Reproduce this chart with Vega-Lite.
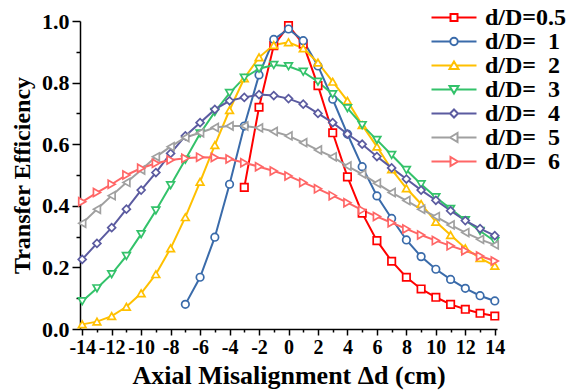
{
"$schema": "https://vega.github.io/schema/vega-lite/v6.json",
"width": 417, "height": 308,
"autosize": {"type": "none"},
"padding": {"left": 80, "top": 21, "right": 81, "bottom": 63},
"background": "white",
"config": {"view": {"stroke": null}, "font": "Liberation Serif"},
"data": {"values": [
{"s":"d/D=0.5","x":-3,"y":0.46},{"s":"d/D=0.5","x":-2,"y":0.72},{"s":"d/D=0.5","x":-1,"y":0.92},{"s":"d/D=0.5","x":0,"y":0.985},{"s":"d/D=0.5","x":1,"y":0.925},{"s":"d/D=0.5","x":2,"y":0.79},{"s":"d/D=0.5","x":3,"y":0.637},{"s":"d/D=0.5","x":4,"y":0.494},{"s":"d/D=0.5","x":5,"y":0.376},{"s":"d/D=0.5","x":6,"y":0.287},{"s":"d/D=0.5","x":7,"y":0.22},{"s":"d/D=0.5","x":8,"y":0.168},{"s":"d/D=0.5","x":9,"y":0.13},{"s":"d/D=0.5","x":10,"y":0.103},{"s":"d/D=0.5","x":11,"y":0.08},{"s":"d/D=0.5","x":12,"y":0.064},{"s":"d/D=0.5","x":13,"y":0.051},{"s":"d/D=0.5","x":14,"y":0.042},
{"s":"d/D=\u00a0\u00a01","x":-7,"y":0.08},{"s":"d/D=\u00a0\u00a01","x":-6,"y":0.168},{"s":"d/D=\u00a0\u00a01","x":-5,"y":0.298},{"s":"d/D=\u00a0\u00a01","x":-4,"y":0.47},{"s":"d/D=\u00a0\u00a01","x":-3,"y":0.659},{"s":"d/D=\u00a0\u00a01","x":-2,"y":0.825},{"s":"d/D=\u00a0\u00a01","x":-1,"y":0.94},{"s":"d/D=\u00a0\u00a01","x":0,"y":0.974},{"s":"d/D=\u00a0\u00a01","x":1,"y":0.936},{"s":"d/D=\u00a0\u00a01","x":2,"y":0.854},{"s":"d/D=\u00a0\u00a01","x":3,"y":0.746},{"s":"d/D=\u00a0\u00a01","x":4,"y":0.633},{"s":"d/D=\u00a0\u00a01","x":5,"y":0.527},{"s":"d/D=\u00a0\u00a01","x":6,"y":0.432},{"s":"d/D=\u00a0\u00a01","x":7,"y":0.359},{"s":"d/D=\u00a0\u00a01","x":8,"y":0.289},{"s":"d/D=\u00a0\u00a01","x":9,"y":0.235},{"s":"d/D=\u00a0\u00a01","x":10,"y":0.194},{"s":"d/D=\u00a0\u00a01","x":11,"y":0.161},{"s":"d/D=\u00a0\u00a01","x":12,"y":0.132},{"s":"d/D=\u00a0\u00a01","x":13,"y":0.108},{"s":"d/D=\u00a0\u00a01","x":14,"y":0.091},
{"s":"d/D=\u00a0\u00a02","x":-14,"y":0.015},{"s":"d/D=\u00a0\u00a02","x":-13,"y":0.024},{"s":"d/D=\u00a0\u00a02","x":-12,"y":0.042},{"s":"d/D=\u00a0\u00a02","x":-11,"y":0.072},{"s":"d/D=\u00a0\u00a02","x":-10,"y":0.116},{"s":"d/D=\u00a0\u00a02","x":-9,"y":0.178},{"s":"d/D=\u00a0\u00a02","x":-8,"y":0.262},{"s":"d/D=\u00a0\u00a02","x":-7,"y":0.363},{"s":"d/D=\u00a0\u00a02","x":-6,"y":0.478},{"s":"d/D=\u00a0\u00a02","x":-5,"y":0.597},{"s":"d/D=\u00a0\u00a02","x":-4,"y":0.711},{"s":"d/D=\u00a0\u00a02","x":-3,"y":0.814},{"s":"d/D=\u00a0\u00a02","x":-2,"y":0.882},{"s":"d/D=\u00a0\u00a02","x":-1,"y":0.922},{"s":"d/D=\u00a0\u00a02","x":0,"y":0.931},{"s":"d/D=\u00a0\u00a02","x":1,"y":0.911},{"s":"d/D=\u00a0\u00a02","x":2,"y":0.865},{"s":"d/D=\u00a0\u00a02","x":3,"y":0.803},{"s":"d/D=\u00a0\u00a02","x":4,"y":0.741},{"s":"d/D=\u00a0\u00a02","x":5,"y":0.662},{"s":"d/D=\u00a0\u00a02","x":6,"y":0.592},{"s":"d/D=\u00a0\u00a02","x":7,"y":0.518},{"s":"d/D=\u00a0\u00a02","x":8,"y":0.457},{"s":"d/D=\u00a0\u00a02","x":9,"y":0.406},{"s":"d/D=\u00a0\u00a02","x":10,"y":0.348},{"s":"d/D=\u00a0\u00a02","x":11,"y":0.305},{"s":"d/D=\u00a0\u00a02","x":12,"y":0.262},{"s":"d/D=\u00a0\u00a02","x":13,"y":0.23},{"s":"d/D=\u00a0\u00a02","x":14,"y":0.205},
{"s":"d/D=\u00a0\u00a03","x":-14,"y":0.09},{"s":"d/D=\u00a0\u00a03","x":-13,"y":0.132},{"s":"d/D=\u00a0\u00a03","x":-12,"y":0.178},{"s":"d/D=\u00a0\u00a03","x":-11,"y":0.237},{"s":"d/D=\u00a0\u00a03","x":-10,"y":0.308},{"s":"d/D=\u00a0\u00a03","x":-9,"y":0.385},{"s":"d/D=\u00a0\u00a03","x":-8,"y":0.467},{"s":"d/D=\u00a0\u00a03","x":-7,"y":0.55},{"s":"d/D=\u00a0\u00a03","x":-6,"y":0.635},{"s":"d/D=\u00a0\u00a03","x":-5,"y":0.705},{"s":"d/D=\u00a0\u00a03","x":-4,"y":0.766},{"s":"d/D=\u00a0\u00a03","x":-3,"y":0.816},{"s":"d/D=\u00a0\u00a03","x":-2,"y":0.845},{"s":"d/D=\u00a0\u00a03","x":-1,"y":0.857},{"s":"d/D=\u00a0\u00a03","x":0,"y":0.853},{"s":"d/D=\u00a0\u00a03","x":1,"y":0.835},{"s":"d/D=\u00a0\u00a03","x":2,"y":0.803},{"s":"d/D=\u00a0\u00a03","x":3,"y":0.762},{"s":"d/D=\u00a0\u00a03","x":4,"y":0.717},{"s":"d/D=\u00a0\u00a03","x":5,"y":0.662},{"s":"d/D=\u00a0\u00a03","x":6,"y":0.614},{"s":"d/D=\u00a0\u00a03","x":7,"y":0.565},{"s":"d/D=\u00a0\u00a03","x":8,"y":0.516},{"s":"d/D=\u00a0\u00a03","x":9,"y":0.47},{"s":"d/D=\u00a0\u00a03","x":10,"y":0.428},{"s":"d/D=\u00a0\u00a03","x":11,"y":0.39},{"s":"d/D=\u00a0\u00a03","x":12,"y":0.353},{"s":"d/D=\u00a0\u00a03","x":13,"y":0.318},{"s":"d/D=\u00a0\u00a03","x":14,"y":0.285},
{"s":"d/D=\u00a0\u00a04","x":-14,"y":0.226},{"s":"d/D=\u00a0\u00a04","x":-13,"y":0.278},{"s":"d/D=\u00a0\u00a04","x":-12,"y":0.329},{"s":"d/D=\u00a0\u00a04","x":-11,"y":0.389},{"s":"d/D=\u00a0\u00a04","x":-10,"y":0.451},{"s":"d/D=\u00a0\u00a04","x":-9,"y":0.508},{"s":"d/D=\u00a0\u00a04","x":-8,"y":0.57},{"s":"d/D=\u00a0\u00a04","x":-7,"y":0.627},{"s":"d/D=\u00a0\u00a04","x":-6,"y":0.67},{"s":"d/D=\u00a0\u00a04","x":-5,"y":0.713},{"s":"d/D=\u00a0\u00a04","x":-4,"y":0.741},{"s":"d/D=\u00a0\u00a04","x":-3,"y":0.752},{"s":"d/D=\u00a0\u00a04","x":-2,"y":0.761},{"s":"d/D=\u00a0\u00a04","x":-1,"y":0.758},{"s":"d/D=\u00a0\u00a04","x":0,"y":0.748},{"s":"d/D=\u00a0\u00a04","x":1,"y":0.73},{"s":"d/D=\u00a0\u00a04","x":2,"y":0.7},{"s":"d/D=\u00a0\u00a04","x":3,"y":0.67},{"s":"d/D=\u00a0\u00a04","x":4,"y":0.633},{"s":"d/D=\u00a0\u00a04","x":5,"y":0.6},{"s":"d/D=\u00a0\u00a04","x":6,"y":0.56},{"s":"d/D=\u00a0\u00a04","x":7,"y":0.523},{"s":"d/D=\u00a0\u00a04","x":8,"y":0.487},{"s":"d/D=\u00a0\u00a04","x":9,"y":0.451},{"s":"d/D=\u00a0\u00a04","x":10,"y":0.418},{"s":"d/D=\u00a0\u00a04","x":11,"y":0.384},{"s":"d/D=\u00a0\u00a04","x":12,"y":0.352},{"s":"d/D=\u00a0\u00a04","x":13,"y":0.326},{"s":"d/D=\u00a0\u00a04","x":14,"y":0.303},
{"s":"d/D=\u00a0\u00a05","x":-14,"y":0.343},{"s":"d/D=\u00a0\u00a05","x":-13,"y":0.389},{"s":"d/D=\u00a0\u00a05","x":-12,"y":0.433},{"s":"d/D=\u00a0\u00a05","x":-11,"y":0.476},{"s":"d/D=\u00a0\u00a05","x":-10,"y":0.516},{"s":"d/D=\u00a0\u00a05","x":-9,"y":0.559},{"s":"d/D=\u00a0\u00a05","x":-8,"y":0.592},{"s":"d/D=\u00a0\u00a05","x":-7,"y":0.622},{"s":"d/D=\u00a0\u00a05","x":-6,"y":0.637},{"s":"d/D=\u00a0\u00a05","x":-5,"y":0.654},{"s":"d/D=\u00a0\u00a05","x":-4,"y":0.659},{"s":"d/D=\u00a0\u00a05","x":-3,"y":0.659},{"s":"d/D=\u00a0\u00a05","x":-2,"y":0.653},{"s":"d/D=\u00a0\u00a05","x":-1,"y":0.641},{"s":"d/D=\u00a0\u00a05","x":0,"y":0.627},{"s":"d/D=\u00a0\u00a05","x":1,"y":0.605},{"s":"d/D=\u00a0\u00a05","x":2,"y":0.581},{"s":"d/D=\u00a0\u00a05","x":3,"y":0.559},{"s":"d/D=\u00a0\u00a05","x":4,"y":0.529},{"s":"d/D=\u00a0\u00a05","x":5,"y":0.503},{"s":"d/D=\u00a0\u00a05","x":6,"y":0.473},{"s":"d/D=\u00a0\u00a05","x":7,"y":0.443},{"s":"d/D=\u00a0\u00a05","x":8,"y":0.417},{"s":"d/D=\u00a0\u00a05","x":9,"y":0.389},{"s":"d/D=\u00a0\u00a05","x":10,"y":0.365},{"s":"d/D=\u00a0\u00a05","x":11,"y":0.338},{"s":"d/D=\u00a0\u00a05","x":12,"y":0.313},{"s":"d/D=\u00a0\u00a05","x":13,"y":0.291},{"s":"d/D=\u00a0\u00a05","x":14,"y":0.273},
{"s":"d/D=\u00a0\u00a06","x":-14,"y":0.413},{"s":"d/D=\u00a0\u00a06","x":-13,"y":0.443},{"s":"d/D=\u00a0\u00a06","x":-12,"y":0.47},{"s":"d/D=\u00a0\u00a06","x":-11,"y":0.5},{"s":"d/D=\u00a0\u00a06","x":-10,"y":0.522},{"s":"d/D=\u00a0\u00a06","x":-9,"y":0.538},{"s":"d/D=\u00a0\u00a06","x":-8,"y":0.549},{"s":"d/D=\u00a0\u00a06","x":-7,"y":0.554},{"s":"d/D=\u00a0\u00a06","x":-6,"y":0.558},{"s":"d/D=\u00a0\u00a06","x":-5,"y":0.557},{"s":"d/D=\u00a0\u00a06","x":-4,"y":0.552},{"s":"d/D=\u00a0\u00a06","x":-3,"y":0.54},{"s":"d/D=\u00a0\u00a06","x":-2,"y":0.527},{"s":"d/D=\u00a0\u00a06","x":-1,"y":0.513},{"s":"d/D=\u00a0\u00a06","x":0,"y":0.497},{"s":"d/D=\u00a0\u00a06","x":1,"y":0.476},{"s":"d/D=\u00a0\u00a06","x":2,"y":0.455},{"s":"d/D=\u00a0\u00a06","x":3,"y":0.433},{"s":"d/D=\u00a0\u00a06","x":4,"y":0.41},{"s":"d/D=\u00a0\u00a06","x":5,"y":0.386},{"s":"d/D=\u00a0\u00a06","x":6,"y":0.365},{"s":"d/D=\u00a0\u00a06","x":7,"y":0.345},{"s":"d/D=\u00a0\u00a06","x":8,"y":0.325},{"s":"d/D=\u00a0\u00a06","x":9,"y":0.305},{"s":"d/D=\u00a0\u00a06","x":10,"y":0.287},{"s":"d/D=\u00a0\u00a06","x":11,"y":0.27},{"s":"d/D=\u00a0\u00a06","x":12,"y":0.254},{"s":"d/D=\u00a0\u00a06","x":13,"y":0.237},{"s":"d/D=\u00a0\u00a06","x":14,"y":0.221}
]},
"layer": [
{
"mark": {"type": "line", "strokeWidth": 2},
"encoding": {
"x": {"field": "x", "type": "quantitative", "scale": {"domain": [-14.15, 14.15], "nice": false, "zero": false},
"axis": {"orient": "bottom", "values": [-14,-12,-10,-8,-6,-4,-2,0,2,4,6,8,10,12,14], "labelExpr": "'' + datum.value", "title": "Axial Misalignment \u0394d (cm)", "grid": false, "tickSize": 6, "tickWidth": 1.5, "tickColor": "black", "domainColor": "black", "domainWidth": 1.5, "labelFont": "Liberation Serif", "labelFontSize": 20, "labelFontWeight": "bold", "labelColor": "black", "labelPadding": 2, "labelFlush": false, "labelOverlap": false, "titleFont": "Liberation Serif", "titleFontSize": 26, "titleFontWeight": "bold", "titleColor": "black", "titlePadding": 5}},
"y": {"field": "y", "type": "quantitative", "scale": {"domain": [0, 1], "nice": false},
"axis": {"orient": "left", "values": [0, 0.2, 0.4, 0.6, 0.8, 1.0], "format": ".1f", "title": "Transfer Efficiency", "grid": false, "tickSize": 8, "tickWidth": 1.5, "tickColor": "black", "domainColor": "black", "domainWidth": 1.5, "labelFont": "Liberation Serif", "labelFontSize": 22, "labelFontWeight": "bold", "labelColor": "black", "labelPadding": 3, "labelFlush": false, "labelOverlap": false, "titleFont": "Liberation Serif", "titleFontSize": 24, "titleFontWeight": "bold", "titleColor": "black", "titlePadding": 7}},
"color": {"field": "s", "type": "nominal", "legend": null,
"scale": {"domain": ["d/D=0.5","d/D=\u00a0\u00a01","d/D=\u00a0\u00a02","d/D=\u00a0\u00a03","d/D=\u00a0\u00a04","d/D=\u00a0\u00a05","d/D=\u00a0\u00a06"], "range": ["#FF0000","#3A6BAA","#FFC000","#33C26A","#5B5BA0","#A0A0A0","#FF6666"]}}
}
},
{
"mark": {"type": "point", "filled": false, "fill": "white", "strokeWidth": 1.7, "opacity": 1},
"encoding": {
"x": {"field": "x", "type": "quantitative", "scale": {"domain": [-14.15, 14.15], "nice": false, "zero": false},
"axis": {"orient": "bottom", "values": [-13,-11,-9,-7,-5,-3,-1,1,3,5,7,9,11,13], "labels": false, "domain": false, "title": null, "grid": false, "tickSize": 3, "tickWidth": 1.5, "tickColor": "black"}},
"y": {"field": "y", "type": "quantitative", "scale": {"domain": [0, 1], "nice": false},
"axis": {"orient": "left", "values": [0.1, 0.3, 0.5, 0.7, 0.9], "labels": false, "domain": false, "title": null, "grid": false, "tickSize": 4, "tickWidth": 1.5, "tickColor": "black"}},
"color": {"field": "s", "type": "nominal", "legend": null,
"scale": {"domain": ["d/D=0.5","d/D=\u00a0\u00a01","d/D=\u00a0\u00a02","d/D=\u00a0\u00a03","d/D=\u00a0\u00a04","d/D=\u00a0\u00a05","d/D=\u00a0\u00a06"], "range": ["#FF0000","#3A6BAA","#FFC000","#33C26A","#5B5BA0","#A0A0A0","#FF6666"]}},
"shape": {"field": "s", "type": "nominal", "legend": null,
"scale": {"domain": ["d/D=0.5","d/D=\u00a0\u00a01","d/D=\u00a0\u00a02","d/D=\u00a0\u00a03","d/D=\u00a0\u00a04","d/D=\u00a0\u00a05","d/D=\u00a0\u00a06"], "range": ["square","circle","triangle-up","triangle-down","diamond","triangle-left","triangle-right"]}},
"size": {"field": "s", "type": "nominal", "legend": null,
"scale": {"domain": ["d/D=0.5","d/D=\u00a0\u00a01","d/D=\u00a0\u00a02","d/D=\u00a0\u00a03","d/D=\u00a0\u00a04","d/D=\u00a0\u00a05","d/D=\u00a0\u00a06"], "range": [55, 65, 110, 110, 95, 110, 110]}}
}
},
{
"mark": {"type": "point", "filled": false, "opacity": 0},
"encoding": {
"x": {"field": "x", "type": "quantitative", "scale": {"domain": [-14.15, 14.15], "nice": false, "zero": false}, "axis": null},
"y": {"field": "y", "type": "quantitative", "scale": {"domain": [0, 1], "nice": false}, "axis": null},
"color": {"field": "s", "type": "nominal",
"scale": {"domain": ["d/D=0.5","d/D=\u00a0\u00a01","d/D=\u00a0\u00a02","d/D=\u00a0\u00a03","d/D=\u00a0\u00a04","d/D=\u00a0\u00a05","d/D=\u00a0\u00a06"], "range": ["#FF0000","#3A6BAA","#FFC000","#33C26A","#5B5BA0","#A0A0A0","#FF6666"]},
"legend": {"orient": "none", "legendX": 362, "legendY": -15.5, "title": null, "padding": 0, "labelFont": "Liberation Serif", "labelFontSize": 24, "labelFontWeight": "bold", "labelColor": "black", "labelOffset": 19, "labelLimit": 300, "symbolSize": 100, "symbolStrokeWidth": 2, "symbolFillColor": "white", "symbolOpacity": 1, "rowPadding": 0}},
"shape": {"field": "s", "type": "nominal",
"scale": {"domain": ["d/D=0.5","d/D=\u00a0\u00a01","d/D=\u00a0\u00a02","d/D=\u00a0\u00a03","d/D=\u00a0\u00a04","d/D=\u00a0\u00a05","d/D=\u00a0\u00a06"], "range": [
"M-4.5,0H-0.7M0.7,0H4.5M-0.7,-0.7H0.7V0.7H-0.7Z",
"M-4.5,0H-0.75M0.75,0H4.5M-0.75,0A0.75,0.75 0 1 0 0.75,0A0.75,0.75 0 1 0 -0.75,0Z",
"M-4.5,0H-0.48M0.48,0H4.5M0,-0.8L0.9,0.7H-0.9Z",
"M-4.5,0H-0.48M0.48,0H4.5M0,0.8L0.9,-0.7H-0.9Z",
"M-4.5,0H-0.8M0.8,0H4.5M0,-0.8L0.8,0L0,0.8L-0.8,0Z",
"M-4.5,0H-0.8M0.7,0H4.5M-0.8,0L0.7,-0.9V0.9Z",
"M-4.5,0H-0.7M0.8,0H4.5M0.8,0L-0.7,-0.9V0.9Z"]},
"legend": {"orient": "none", "legendX": 362, "legendY": -15.5, "title": null, "padding": 0, "labelFont": "Liberation Serif", "labelFontSize": 24, "labelFontWeight": "bold", "labelColor": "black", "labelOffset": 19, "labelLimit": 300, "symbolSize": 100, "symbolStrokeWidth": 2, "symbolFillColor": "white", "symbolOpacity": 1, "rowPadding": 0}}
}
}
],
"resolve": {"scale": {"color": "independent", "shape": "independent", "size": "independent"}, "axis": {"x": "independent", "y": "independent"}}
}
